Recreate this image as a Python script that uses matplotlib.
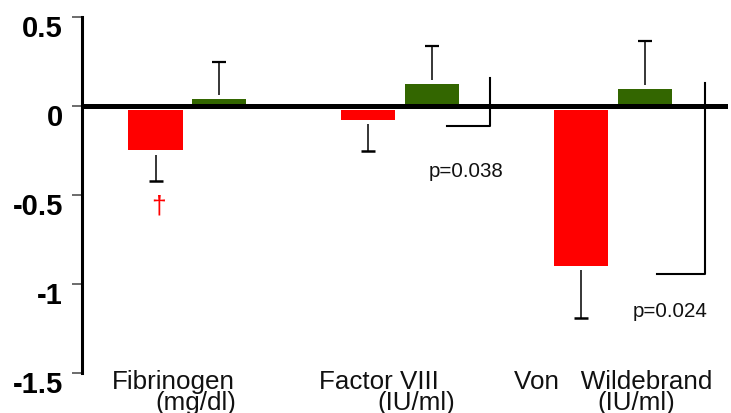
import numpy as np
import matplotlib
matplotlib.use('Agg')
import matplotlib.pyplot as plt

plt.rcParams['font.family'] = ['Liberation Sans', 'DejaVu Sans']

# 数据
groups = ['Fibrinogen', 'Factor VIII', 'Von   Wildebrand']
units = ['(mg/dl)', '(IU/ml)', '(IU/ml)']
red_mean = [-0.25, -0.077, -0.897]
red_err = [0.17, 0.174, 0.293]
green_mean = [0.039, 0.123, 0.095]
green_err = [0.21, 0.215, 0.271]
p_texts = ['p=0.038', 'p=0.024']
yticks = [0.5, 0, -0.5, -1, -1.5]
ytick_labels = ['0.5', '0', '-0.5', '-1', '-1.5']

red = '#FF0000'
green = '#336600'
width = 0.255
off = 0.15
gap = 0.025

fig = plt.figure(figsize=(7.31, 4.14), dpi=100)
ax = fig.add_axes([0.1115, 0.0966, 0.8885, 0.8602])
x = np.arange(len(groups))

# 柱子
ax.bar(x - off, np.array(red_mean) + 0.025, width, bottom=-0.025, color=red, zorder=2)
ax.bar(x + off, green_mean, width, color=green, zorder=2)

# 误差线（只画单边）
rm = np.array(red_mean)
gm = np.array(green_mean)
ax.vlines(x - off, rm - gap, rm - np.array(red_err), color='black', lw=1.1, zorder=3)
ax.plot(x - off, rm - np.array(red_err), ls='none', marker='_', ms=9.5, mew=1.8, color='black', zorder=3)
ax.vlines(x + off, gm + gap, gm + np.array(green_err), color='black', lw=1.1, zorder=3)
ax.plot(x + off, gm + np.array(green_err), ls='none', marker='_', ms=9.5, mew=1.6, color='black', zorder=3)

# 零线
ax.axhline(0, xmin=0, xmax=0.991, color='black', lw=3.6, zorder=4)

# p 值括号
ax.plot([1.221, 1.4235, 1.4235], [-0.1125, -0.1125, 0.157], color='black', lw=1.5, zorder=3)
ax.plot([2.209, 2.432, 2.432], [-0.944, -0.944, 0.129], color='black', lw=1.5, zorder=3)
ax.text(1.135, -0.3915, p_texts[0], fontsize=14.8, ha='left', va='baseline', color='#111111')
ax.text(2.095, -1.181, p_texts[1], fontsize=14.8, ha='left', va='baseline', color='#111111')

# 显著性标记
ax.text(-0.1355, -0.601, '\u2020', fontsize=19, color=red, ha='center', va='baseline')

# 坐标轴
ax.set_xlim(-0.498, 2.555)
ax.set_ylim(-1.5, 0.5)
for s in ['top', 'right', 'bottom']:
    ax.spines[s].set_visible(False)
ax.spines['left'].set_linewidth(2.2)
ax.set_xticks([])
ax.set_yticks(yticks, labels=[])
ax.tick_params(axis='y', length=7.2, width=1.1, color='#444444')
for v, s in zip(yticks, ytick_labels):
    ax.annotate(s, xy=(0, v), xycoords=('axes fraction', 'data'), xytext=(-13.5, -13.7),
                textcoords='offset points', ha='right', va='baseline',
                fontsize=21, fontweight='bold', annotation_clip=False)

# 分类标签（两行，手动放置）
name_x = [-0.357, 0.619, 1.536]
unit_x = [-0.153, 0.895, 1.926]
for i in range(len(groups)):
    ax.text(name_x[i], -1.5836, groups[i], fontsize=18.7, ha='left', va='baseline', color='#111111', clip_on=False)
    ax.text(unit_x[i], -1.7047, units[i], fontsize=18.7, ha='left', va='baseline', color='#111111', clip_on=False)

fig.savefig('out.png', dpi=100)
